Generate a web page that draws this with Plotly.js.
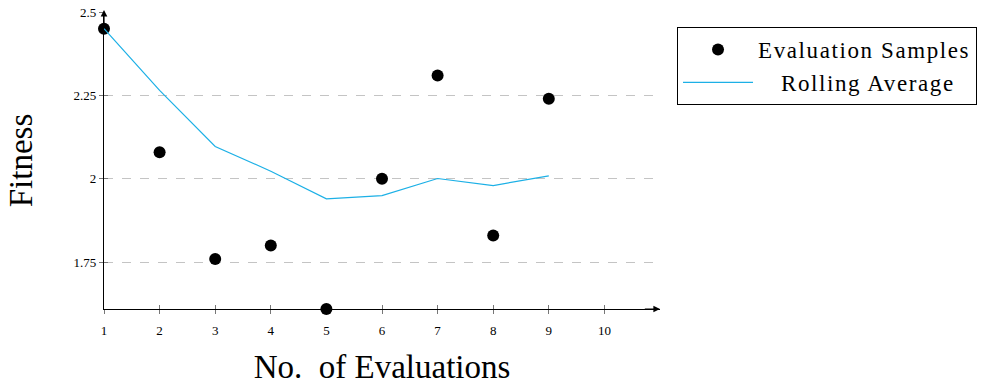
<!DOCTYPE html>
<html>
<head>
<meta charset="utf-8">
<script src="https://cdn.plot.ly/plotly-3.0.1.min.js"></script>
<style>
  html, body { margin: 0; padding: 0; background: #fff; }
  #chart { width: 991px; height: 385px; }
</style>
</head>
<body>
<div id="chart"></div>
<script>
// Evaluation index
const evaluations = [1, 2, 3, 4, 5, 6, 7, 8, 9];
// Fitness of each sampled evaluation
const sampleFitness = [2.45, 2.08, 1.76, 1.80, 1.61, 2.00, 2.31, 1.83, 2.24];
// Rolling average of fitness
const rollingAverage = [2.45, 2.265, 2.097, 2.023, 1.94, 1.95, 2.001, 1.98, 2.009];
// Axis ticks
const xTicks = [1, 2, 3, 4, 5, 6, 7, 8, 9, 10];
const yTicks = [1.75, 2, 2.25, 2.5];
const yTickText = ['1.75', '2', '2.25', '2.5'];
// Series labels
const seriesNames = ['Evaluation Samples', 'Rolling Average'];

const X_RANGE = [1, 11];
const Y_RANGE = [1.61, 2.5];
const SERIF = '"Liberation Serif", "DejaVu Serif", serif';
// legend entries: slightly tracked text, optionally indented to sit centred in the box
const spaced = (s, indent) =>
  '&nbsp;'.repeat(indent) + '<span style="letter-spacing:1.6px">' + s + '</span>';

const traces = [
  {
    x: evaluations, y: sampleFitness,
    type: 'scatter', mode: 'markers',
    name: spaced(seriesNames[0], 0),
    marker: { color: '#000000', size: 12 },
    cliponaxis: false
  },
  {
    x: evaluations, y: rollingAverage,
    type: 'scatter', mode: 'lines',
    name: spaced(seriesNames[1], 4),
    line: { color: '#1cb0e6', width: 1.2 }
  },
  // carrier trace for the inner tick axes
  {
    x: [X_RANGE[0]], y: [Y_RANGE[0]], xaxis: 'x2', yaxis: 'y2',
    type: 'scatter', mode: 'markers', marker: { opacity: 0 },
    showlegend: false, hoverinfo: 'skip'
  }
];

const tickStyle = { ticklen: 4, tickcolor: '#777777', tickwidth: 1 };

const layout = {
  width: 991, height: 385,
  margin: { l: 104, r: 331, t: 12, b: 76 },
  paper_bgcolor: '#ffffff', plot_bgcolor: '#ffffff',
  font: { family: SERIF, color: '#000000' },
  showlegend: true,
  legend: {
    x: 1.0306, y: 0.9495, xanchor: 'left', yanchor: 'top',
    bordercolor: '#000000', borderwidth: 1, bgcolor: '#ffffff',
    font: { family: SERIF, size: 23, color: '#000000' },
    itemwidth: 70,
    tracegroupgap: 0
  },
  xaxis: Object.assign({
    range: X_RANGE, tickvals: xTicks, ticktext: xTicks.map(String),
    showgrid: false, zeroline: false, layer: 'below traces',
    showline: true, linecolor: '#000000', linewidth: 1.2,
    ticks: 'outside', ticklabelstandoff: 5,
    tickfont: { family: SERIF, size: 13 },
    title: { text: 'No.&nbsp; of Evaluations', font: { family: SERIF, size: 33 }, standoff: 20 }
  }, tickStyle),
  yaxis: Object.assign({
    range: Y_RANGE, tickvals: yTicks, ticktext: yTickText,
    showgrid: true, gridcolor: '#c4c4c4', griddash: 'dash', gridwidth: 1,
    zeroline: false, layer: 'below traces',
    showline: true, linecolor: '#000000', linewidth: 1.2,
    ticks: 'outside',
    tickfont: { family: SERIF, size: 13 },
    title: { text: 'Fitness', font: { family: SERIF, size: 33 }, standoff: 31 }
  }, tickStyle),
  // second set of axes draws the inward half of each tick
  xaxis2: Object.assign({
    overlaying: 'x', anchor: 'y2', range: X_RANGE, tickvals: xTicks,
    showticklabels: false, showgrid: false, zeroline: false, showline: false,
    layer: 'below traces', ticks: 'inside'
  }, tickStyle),
  yaxis2: Object.assign({
    overlaying: 'y', anchor: 'x2', range: Y_RANGE, tickvals: yTicks,
    showticklabels: false, showgrid: false, zeroline: false, showline: false,
    layer: 'below traces', ticks: 'inside'
  }, tickStyle),
  annotations: [
    // arrow heads at the axis ends
    {
      x: X_RANGE[1], y: Y_RANGE[0], xref: 'x', yref: 'y',
      ax: X_RANGE[1] - 0.3, ay: Y_RANGE[0], axref: 'x', ayref: 'y',
      showarrow: true, arrowhead: 2, arrowsize: 1.1, arrowwidth: 1.2, arrowcolor: '#000000', text: ''
    },
    {
      x: X_RANGE[0], y: Y_RANGE[1] + 0.006, xref: 'x', yref: 'y',
      ax: X_RANGE[0], ay: Y_RANGE[1] - 0.05, axref: 'x', ayref: 'y',
      showarrow: true, arrowhead: 2, arrowsize: 1.1, arrowwidth: 1.2, arrowcolor: '#000000', text: ''
    }
  ]
};

Plotly.newPlot('chart', traces, layout, { staticPlot: true, displayModeBar: false });
</script>
</body>
</html>
